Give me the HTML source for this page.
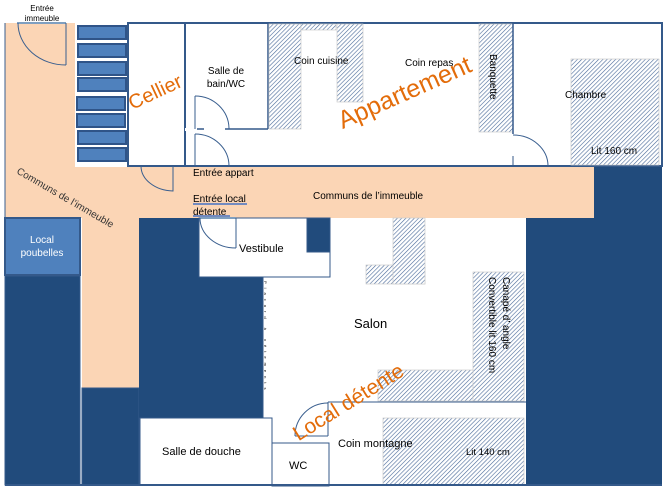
<!DOCTYPE html>
<html><head><meta charset="utf-8"><style>
html,body{margin:0;padding:0;background:#fff;}
svg{display:block;font-family:"Liberation Sans","DejaVu Sans",sans-serif;}
</style></head><body>
<svg width="663" height="491" viewBox="0 0 663 491" xmlns="http://www.w3.org/2000/svg">
<defs>
<pattern id="h" patternUnits="userSpaceOnUse" width="3" height="3" patternTransform="rotate(45)">
<rect width="3" height="3" fill="#fff"/><line x1="0" y1="0" x2="0" y2="3" stroke="#4a6a9a" stroke-width="1.2"/>
</pattern>
</defs>
<rect width="663" height="491" fill="#fff"/>
<rect x="5" y="23" width="70" height="195" fill="#fbd5b5"/>
<rect x="5" y="167" width="134" height="51" fill="#fbd5b5"/>
<rect x="82" y="218" width="57" height="170" fill="#fbd5b5"/>
<rect x="128" y="167" width="466" height="51" fill="#fbd5b5"/>
<line x1="5" y1="23" x2="5" y2="218" stroke="#3a5f8f" stroke-width="1"/>
<line x1="17" y1="23" x2="66" y2="23" stroke="#7f9fc0" stroke-width="2"/>
<line x1="66" y1="23" x2="66" y2="65" stroke="#3a5f8f" stroke-width="1"/>
<path d="M18 23 A48 42 0 0 0 66 65" fill="none" stroke="#3a5f8f" stroke-width="1"/>
<text x="42" y="11" font-size="8" text-anchor="middle">Entrée</text>
<text x="42" y="21" font-size="8" text-anchor="middle">immeuble</text>
<g fill="#4f81bd" stroke="#2f5488" stroke-width="2">
<rect x="78" y="26" width="48" height="13"/><rect x="78" y="44" width="48" height="13"/>
<rect x="78" y="62" width="48" height="13"/><rect x="78" y="78" width="48" height="13"/>
<rect x="77" y="97" width="48" height="13"/><rect x="77" y="114" width="48" height="13"/>
<rect x="78" y="131" width="48" height="13"/><rect x="78" y="148" width="48" height="13"/>
</g>
<rect x="128" y="23" width="534" height="143" fill="#fff" stroke="#34598a" stroke-width="2"/>
<line x1="185" y1="23" x2="185" y2="166" stroke="#34598a" stroke-width="2"/>
<line x1="185" y1="129" x2="268" y2="129" stroke="#34598a" stroke-width="1.5"/>
<line x1="268" y1="23" x2="268" y2="129" stroke="#34598a" stroke-width="1.5"/>
<rect x="185" y="128" width="12" height="3" fill="#fff"/><rect x="204" y="128" width="21" height="3" fill="#fff"/>
<line x1="195" y1="96" x2="195" y2="129" stroke="#3a5f8f"/><path d="M195 96 A34 33 0 0 1 229 129" fill="none" stroke="#3a5f8f"/>
<line x1="195" y1="134" x2="195" y2="166" stroke="#3a5f8f"/><path d="M195 134 A34 32 0 0 1 229 166" fill="none" stroke="#3a5f8f"/>
<path d="M141 166 A33 25 0 0 0 173 191 L173 166" fill="none" stroke="#3a5f8f"/>
<text x="226" y="74" font-size="10" text-anchor="middle">Salle de</text>
<text x="226" y="87" font-size="10" text-anchor="middle">bain/WC</text>
<rect x="269" y="24" width="32" height="105" fill="url(#h)" stroke="#ccc" stroke-width="0.7"/>
<rect x="301" y="24" width="35" height="6" fill="url(#h)" stroke="#ccc" stroke-width="0.7"/>
<rect x="337" y="24" width="26" height="78" fill="url(#h)" stroke="#ccc" stroke-width="0.7"/>
<text x="294" y="64" font-size="10" fill="#000">Coin cuisine</text>
<text x="405" y="66" font-size="10">Coin repas</text>
<rect x="479" y="24" width="34" height="108" fill="url(#h)" stroke="#ccc" stroke-width="0.7"/>
<text transform="translate(490,54) rotate(90)" font-size="10">Banquette</text>
<line x1="513" y1="23" x2="513" y2="134" stroke="#34598a" stroke-width="1.5"/>
<line x1="513" y1="156" x2="513" y2="166" stroke="#34598a" stroke-width="1"/>
<path d="M513 135 A35 31 0 0 1 548 166" fill="none" stroke="#3a5f8f"/>
<rect x="571" y="59" width="88" height="106" fill="url(#h)" stroke="#ccc" stroke-width="0.7"/>
<text x="565" y="98" font-size="10">Chambre</text>
<text x="591" y="154" font-size="10">Lit 160 cm</text>
<text transform="translate(158,98) rotate(-25)" font-size="20" fill="#e36c0a" text-anchor="middle">Cellier</text>
<text transform="translate(408,100) rotate(-24)" font-size="25" fill="#e36c0a" text-anchor="middle">Appartement</text>
<text transform="translate(16,173) rotate(30)" font-size="10" fill="#333">Communs de l’immeuble</text>
<text x="313" y="199" font-size="10">Communs de l’immeuble</text>
<text x="193" y="176" font-size="10">Entrée appart</text>
<text x="193" y="202" font-size="10">Entrée local</text>
<line x1="193" y1="204" x2="247" y2="204" stroke="#4472c4" stroke-width="1.5"/>
<text x="193" y="215" font-size="10">détente</text>
<line x1="193" y1="216" x2="230" y2="216" stroke="#4472c4" stroke-width="1.5"/>
<rect x="594" y="167" width="68" height="51" fill="#214b7c"/>
<rect x="526" y="218" width="136" height="267" fill="#214b7c"/>
<rect x="5" y="218" width="75" height="57" fill="#4f81bd" stroke="#34598a" stroke-width="2"/>
<text x="42" y="243" font-size="10" fill="#fff" text-anchor="middle">Local</text>
<text x="42" y="256" font-size="10" fill="#fff" text-anchor="middle">poubelles</text>
<rect x="5" y="276" width="75" height="209" fill="#214b7c" stroke="#34598a"/>
<rect x="82" y="388" width="57" height="97" fill="#214b7c" stroke="#34598a"/>
<rect x="139" y="218" width="60" height="200" fill="#214b7c"/>
<rect x="199" y="277" width="64" height="141" fill="#214b7c"/>
<rect x="199" y="218" width="131" height="59" fill="#fff" stroke="#34598a" stroke-width="1"/>
<rect x="307" y="218" width="23" height="34" fill="#214b7c" stroke="#34598a"/>
<line x1="200" y1="218" x2="236" y2="218" stroke="#7f9fc0" stroke-width="2"/>
<line x1="236" y1="218" x2="236" y2="248" stroke="#3a5f8f"/><path d="M200 218 A36 30 0 0 0 236 248" fill="none" stroke="#3a5f8f"/>
<text x="239" y="252" font-size="11">Vestibule</text>
<line x1="263" y1="277" x2="263" y2="418" stroke="#34598a"/>
<text transform="translate(264,281) rotate(90)" font-size="4" letter-spacing="4">Placard à vêtements</text>
<rect x="366" y="265" width="59" height="19" fill="url(#h)" stroke="#ccc" stroke-width="0.7"/>
<rect x="393" y="218" width="32" height="66" fill="url(#h)" stroke="#ccc" stroke-width="0.7"/>
<text x="354" y="328" font-size="13">Salon</text>
<rect x="378" y="370" width="146" height="31" fill="url(#h)" stroke="#ccc" stroke-width="0.7"/>
<rect x="473" y="272" width="51" height="129" fill="url(#h)" stroke="#ccc" stroke-width="0.7"/>
<text transform="translate(503,277) rotate(90)" font-size="10">Canapé d’  angle</text>
<text transform="translate(489,277) rotate(90)" font-size="10">Convertible lit 160 cm</text>
<line x1="328" y1="402" x2="526" y2="402" stroke="#34598a" stroke-width="1"/>
<line x1="328" y1="402" x2="328" y2="436" stroke="#34598a"/>
<line x1="328" y1="443" x2="328" y2="485" stroke="#34598a"/>
<path d="M295 436 A33 33 0 0 1 328 403" fill="none" stroke="#3a5f8f"/>
<line x1="295" y1="436" x2="328" y2="436" stroke="#3a5f8f"/>
<rect x="383" y="418" width="141" height="67" fill="url(#h)" stroke="#ccc" stroke-width="0.7"/>
<text x="338" y="447" font-size="11">Coin montagne</text>
<text x="466" y="455" font-size="9.5">Lit 140 cm</text>
<rect x="140" y="418" width="132" height="67" fill="#fff" stroke="#34598a"/>
<text x="162" y="455" font-size="11">Salle de douche</text>
<rect x="272" y="443" width="57" height="43" fill="#fff" stroke="#34598a"/>
<text x="289" y="469" font-size="11">WC</text>
<line x1="272" y1="418" x2="272" y2="426" stroke="#34598a"/>
<line x1="272" y1="436" x2="272" y2="443" stroke="#34598a"/>
<line x1="5" y1="485" x2="662" y2="485" stroke="#34598a" stroke-width="2"/>
<text transform="translate(352,408) rotate(-32)" font-size="21" fill="#e36c0a" text-anchor="middle">Local détente</text>
</svg>
</body></html>
